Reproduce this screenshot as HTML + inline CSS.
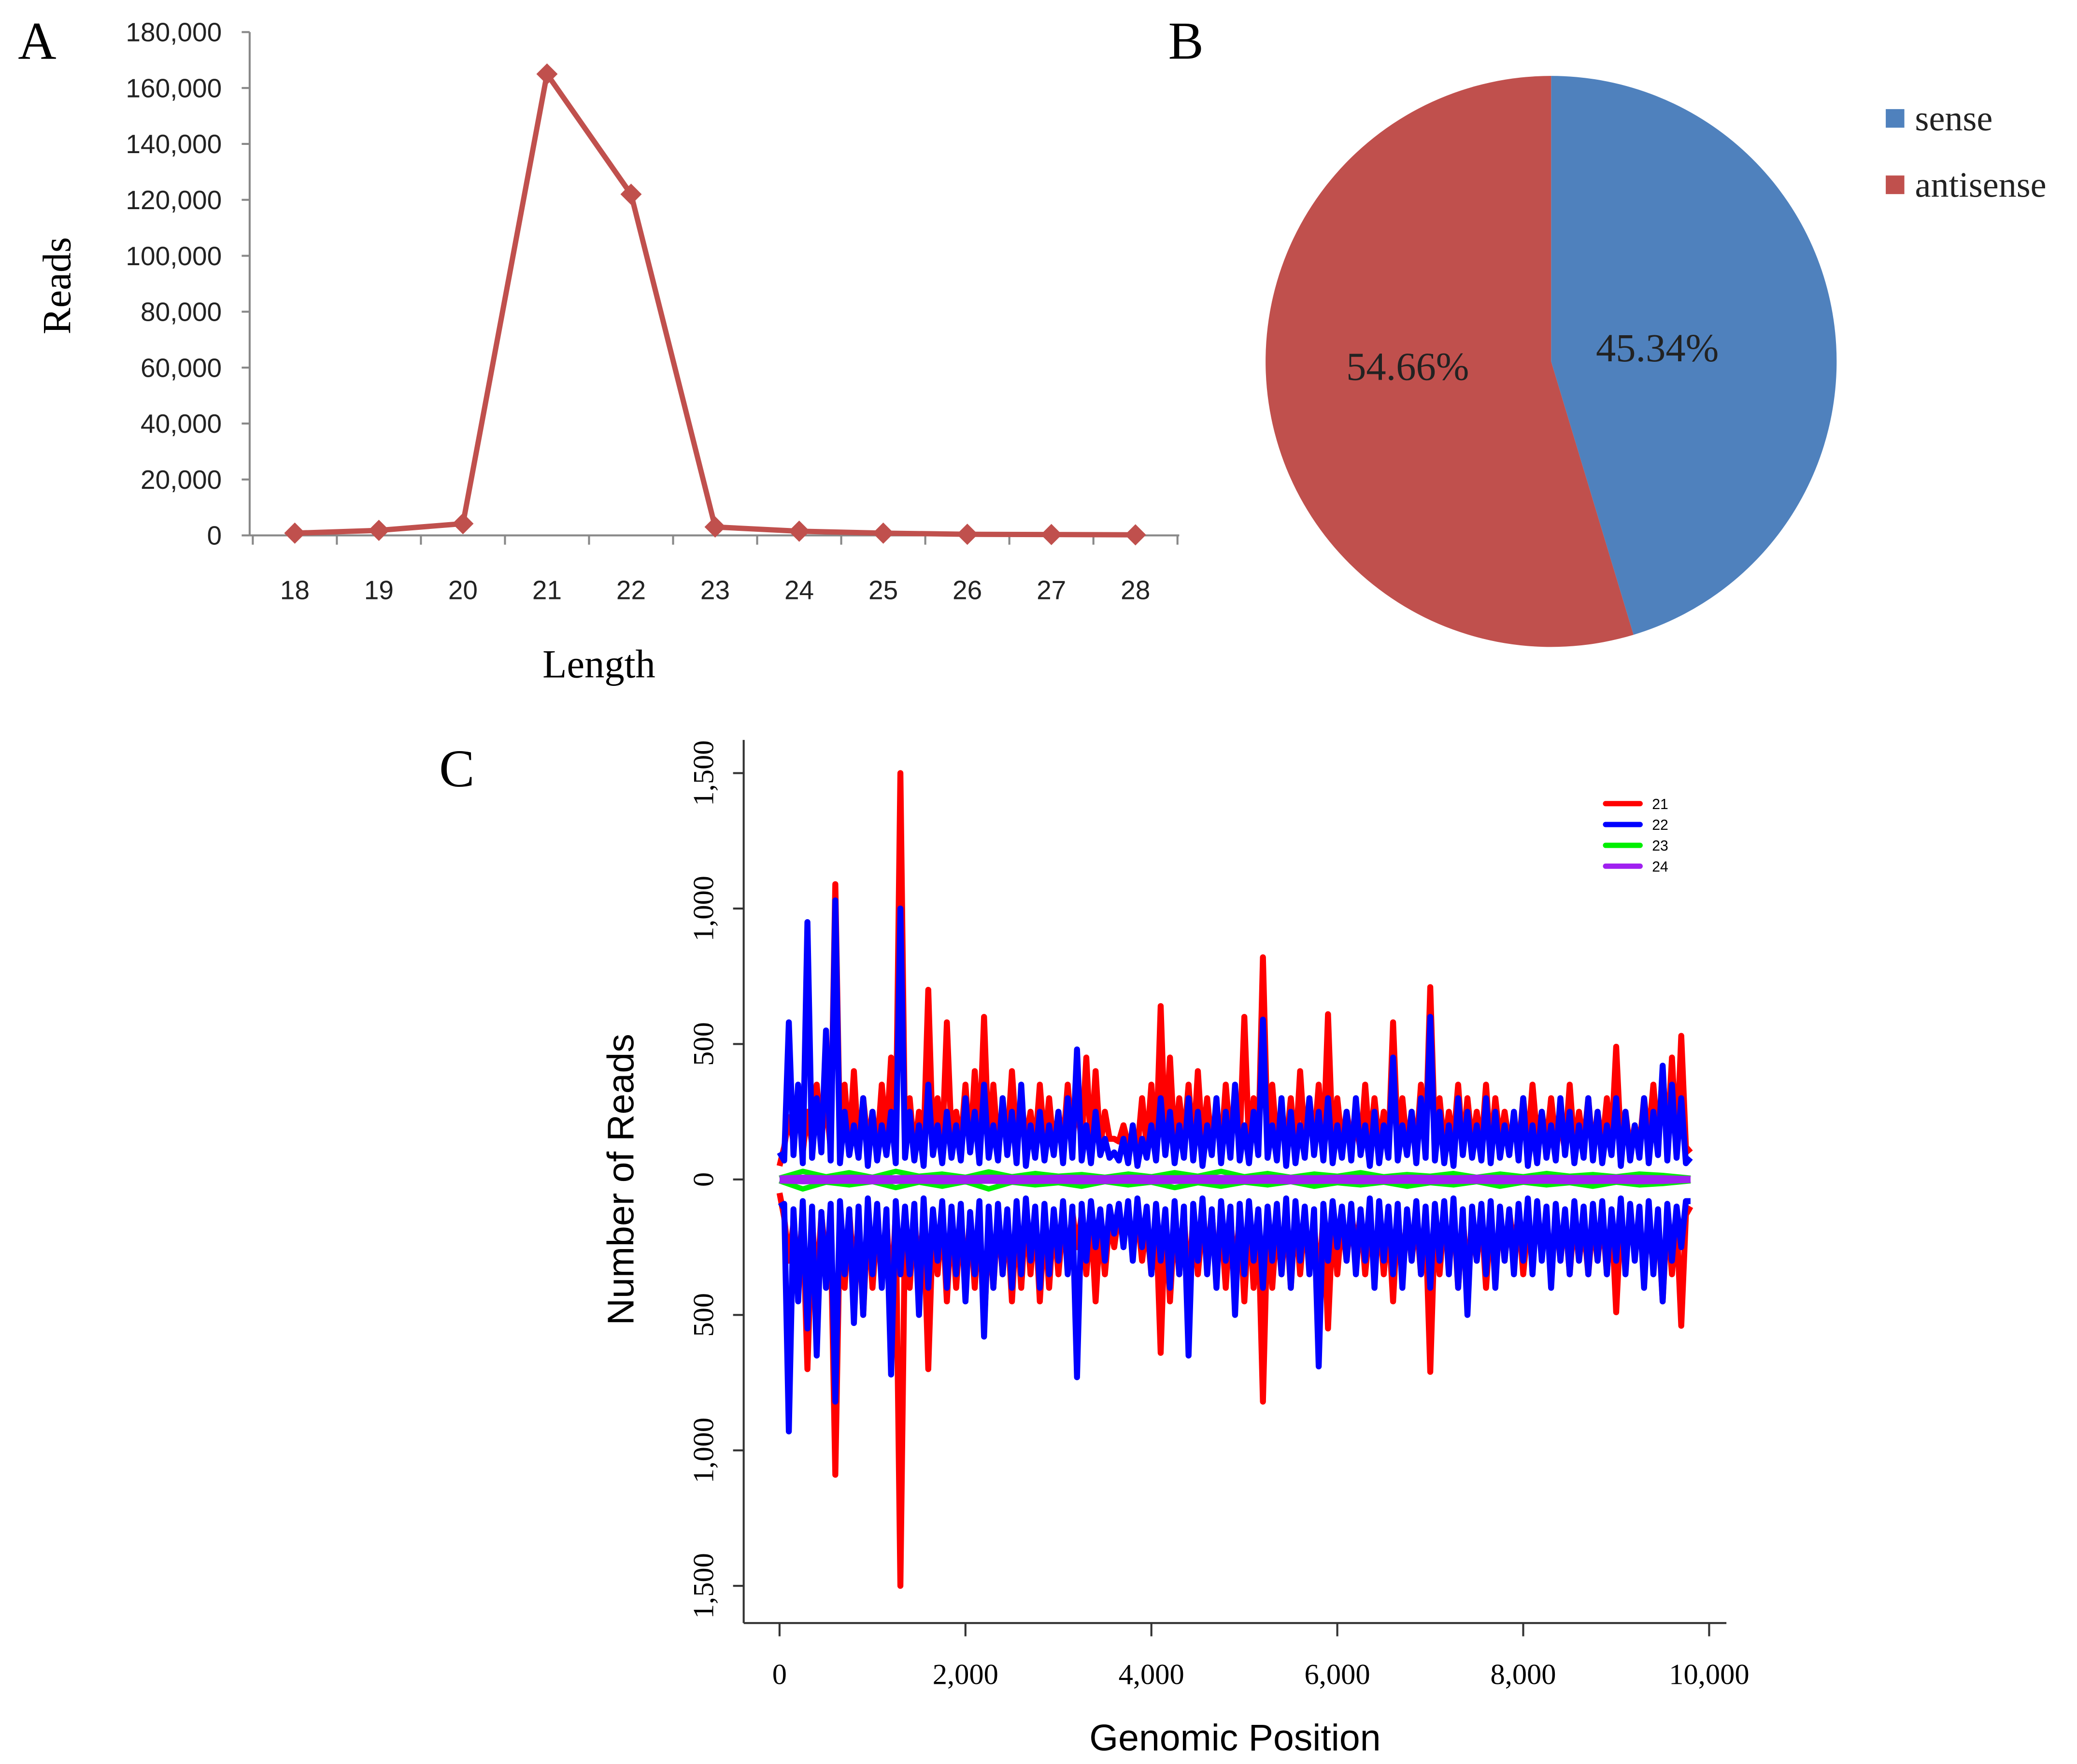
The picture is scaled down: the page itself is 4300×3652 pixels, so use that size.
<!DOCTYPE html>
<html><head><meta charset="utf-8"><style>
html,body{margin:0;padding:0;background:#fff;}
svg{display:block;}
.ser{font-family:"Liberation Serif",serif;}
.san{font-family:"Liberation Sans",sans-serif;}
</style></head><body>
<svg id="fig" width="4300" height="3652" viewBox="0 0 1564 1328" xmlns="http://www.w3.org/2000/svg">
<rect width="1564" height="1328" fill="#fff"/>
<g id="pa"></g>
<g id="pb"></g>
<g id="pc"></g>
</svg>
<script>
// Panel A data
const lenCats = [18,19,20,21,22,23,24,25,26,27,28];
const lenReads = [800,1800,4200,165000,122000,3000,1500,800,400,300,200];
const lenYTicks = [0,20000,40000,60000,80000,100000,120000,140000,160000,180000];
// Panel B data
const strandNames = ["sense","antisense"];
const strandPct = [45.34,54.66];
// Panel C data (peaks at genPos, troughs midway between)
const genPos = [0,100,200,300,400,500,600,700,800,900,1000,1100,1200,1300,1400,1500,1600,1700,1800,1900,2000,2100,2200,2300,2400,2500,2600,2700,2800,2900,3000,3100,3200,3300,3400,3500,3600,3700,3800,3900,4000,4100,4200,4300,4400,4500,4600,4700,4800,4900,5000,5100,5200,5300,5400,5500,5600,5700,5800,5900,6000,6100,6200,6300,6400,6500,6600,6700,6800,6900,7000,7100,7200,7300,7400,7500,7600,7700,7800,7900,8000,8100,8200,8300,8400,8500,8600,8700,8800,8900,9000,9100,9200,9300,9400,9500,9600,9700,9800];
const r21Sense = [50,230,300,250,350,300,1090,350,400,300,250,350,450,1500,300,250,700,300,580,250,350,400,600,350,250,400,300,250,350,300,250,350,300,450,400,250,150,200,150,300,350,640,450,300,350,400,300,250,350,300,600,300,820,350,250,300,400,300,350,610,300,250,200,350,300,250,580,300,250,350,710,300,250,350,300,250,350,300,250,200,300,350,250,300,200,350,250,300,250,300,490,250,200,300,350,400,450,530,100];
const b22Sense = [100,580,350,950,300,550,1030,250,200,300,250,200,250,1000,250,200,350,200,250,200,300,250,350,200,300,250,350,200,250,200,250,300,480,200,250,150,100,150,200,150,200,300,250,200,300,250,200,300,250,350,200,250,590,200,300,250,200,300,250,300,200,250,300,200,250,200,450,200,250,300,600,250,200,300,250,200,300,250,200,250,300,200,250,200,300,250,200,300,250,200,300,250,200,300,250,420,350,300,80];
const r21Anti = [50,300,350,700,400,300,1090,400,350,500,400,350,450,1500,400,350,700,350,450,400,350,400,550,400,350,450,400,350,450,400,350,300,250,350,450,350,250,200,250,300,350,640,450,350,400,350,300,350,400,350,450,400,820,400,350,400,350,300,400,550,350,300,250,350,300,350,450,350,300,350,710,350,300,400,350,300,400,350,300,250,350,300,250,350,300,350,300,350,300,350,490,300,250,350,300,450,350,540,100];
const b22Anti = [100,930,450,550,650,400,820,350,530,500,350,400,720,350,350,500,400,300,400,350,450,350,580,400,350,400,350,300,400,350,300,350,730,300,250,300,200,250,300,250,350,300,400,350,650,300,350,400,300,500,350,300,400,300,350,400,300,350,690,300,250,300,350,300,400,300,350,400,300,350,400,300,350,400,500,300,350,400,300,350,300,350,300,400,300,350,300,350,300,350,300,350,300,400,350,450,300,250,80];
const r21SenseLow = [120,140,100,130,150,110,140,120,100,130,110,150,120,140,100,130,120,110,150,130,100,140,120,110,130,150,140,120,130,110,120,140,130,110,120,150,140,130,110,120,100,130,120,140,110,130,120,100,140,130,120,110,150,130,120,100,140,130,110,120,130,140,110,120,130,100,140,120,110,130,150,120,140,110,130,120,100,140,130,110,120,150,130,140,110,120,130,100,120,140,130,110,120,150,140,130,110,120];
const b22SenseLow = [70,90,60,80,100,70,60,90,80,50,70,90,60,80,70,50,90,60,80,70,100,60,80,70,90,60,50,80,70,90,60,80,70,60,90,80,70,60,50,80,70,90,60,80,70,50,90,60,80,70,60,90,80,70,50,60,80,90,70,60,80,70,90,50,60,80,70,90,60,80,70,60,50,90,80,70,60,80,90,70,50,60,80,70,90,60,80,70,60,90,50,70,80,60,90,70,80,60];
const r21AntiLow = [140,160,120,150,130,170,140,120,150,130,160,140,120,150,130,140,160,120,130,150,140,120,160,130,150,140,120,130,160,140,150,120,130,140,160,150,120,140,130,160,140,120,150,130,140,160,120,150,140,130,120,160,140,150,130,120,140,160,130,150,140,120,130,160,140,150,120,130,140,160,150,130,120,140,160,130,150,140,120,130,160,140,150,120,130,140,160,150,130,120,140,150,130,160,140,120,150,130];
const b22AntiLow = [90,110,80,100,120,90,80,110,100,70,90,110,80,100,90,70,110,80,100,90,120,80,100,90,110,80,70,100,90,110,80,100,90,80,110,100,90,80,70,100,90,110,80,100,90,70,110,80,100,90,80,110,100,90,70,80,100,110,90,80,100,90,110,70,80,100,90,110,80,100,90,80,70,110,100,90,80,100,110,90,70,80,100,90,110,80,100,90,80,110,70,90,100,80,110,90,100,80];
const g23Pos = [0,250,500,750,1000,1250,1500,1750,2000,2250,2500,2750,3000,3250,3500,3750,4000,4250,4500,4750,5000,5250,5500,5750,6000,6250,6500,6750,7000,7250,7500,7750,8000,8250,8500,8750,9000,9250,9500,9800];
const g23Sense = [5,30,10,25,8,30,12,20,8,28,10,22,12,18,8,20,10,25,12,30,10,22,8,20,12,25,10,18,12,22,8,20,10,22,12,18,10,20,15,5];
const g23Anti = [5,35,10,20,8,30,10,25,8,35,10,20,12,25,8,20,10,30,12,25,10,20,8,25,12,20,10,25,12,20,8,25,10,20,12,25,10,20,15,5];
const p24Sense = [5,8,6,8,7,6,8,7,6,8,7,6,8,7,6,8,7,6,8,7,6,8,7,6,8,7,6,8,7,6,8,7,6,8,7,6,8,7,6,3];
const p24Anti = [5,8,7,6,8,7,6,8,7,6,8,7,6,8,7,6,8,7,6,8,7,6,8,7,6,8,7,6,8,7,6,8,7,6,8,7,6,8,7,3];
const cYTicks = [1500,1000,500,0,-500,-1000,-1500];
const cXTicks = [0,2000,4000,6000,8000,10000];
const cLegend = ["21","22","23","24"];

const NS="http://www.w3.org/2000/svg";
function mk(parent,tag,attrs,text){const e=document.createElementNS(NS,tag);for(const k in attrs)e.setAttribute(k,attrs[k]);if(text!==undefined)e.textContent=text;parent.appendChild(e);return e;}
const fmt=v=>Math.abs(v).toLocaleString('en-US');

// ---------- Panel A ----------
const pa=document.getElementById('pa');
const ax=i=>222+i*63.3, ay=v=>403-v*(379/180000);
let e;
e=mk(pa,'text',{x:28,y:44,'font-size':40,class:'ser','text-anchor':'middle'},'A');

e=mk(pa,'line',{x1:188,y1:24,x2:188,y2:403,stroke:'#888','stroke-width':1.5});

e=mk(pa,'line',{x1:188,y1:403,x2:888,y2:403,stroke:'#888','stroke-width':1.5});

lenYTicks.forEach(v=>{
  mk(pa,'line',{x1:182,y1:ay(v),x2:188,y2:ay(v),stroke:'#888','stroke-width':1.5});
  e=mk(pa,'text',{x:167,y:ay(v)+7,'font-size':20,class:'san','text-anchor':'end',fill:'#222'},fmt(v));
  
});
for(let i=0;i<=lenCats.length;i++){const x=ax(i)-31.65;mk(pa,'line',{x1:x,y1:403,x2:x,y2:410,stroke:'#888','stroke-width':1.5});}
lenCats.forEach((c,i)=>{e=mk(pa,'text',{x:ax(i),y:451,'font-size':20,class:'san','text-anchor':'middle',fill:'#222'},c);
  });
e=mk(pa,'polyline',{points:lenReads.map((v,i)=>ax(i)+','+ay(v)).join(' '),fill:'none',stroke:'#C0504D','stroke-width':4});

lenReads.forEach((v,i)=>{const x=ax(i),y=ay(v);e=mk(pa,'polygon',{points:`${x},${y-8} ${x+8},${y} ${x},${y+8} ${x-8},${y}`,fill:'#C0504D'});
  });
e=mk(pa,'text',{x:0,y:0,'font-size':30,class:'ser','text-anchor':'middle',transform:'translate(53,215) rotate(-90)'},'Reads');

e=mk(pa,'text',{x:451,y:510,'font-size':30,class:'ser','text-anchor':'middle'},'Length');


// ---------- Panel B ----------
const pb=document.getElementById('pb');
e=mk(pb,'text',{x:893,y:44,'font-size':40,class:'ser','text-anchor':'middle'},'B');

const cx=1168,cy=272,R=215,cols=['#4F81BD','#C0504D'];
const lblPos=[[1248,272],[1060,286]];
let a0=-Math.PI/2;
const tot=strandPct.reduce((a,b)=>a+b,0);
strandPct.forEach((p,i)=>{
  const a1=a0+p/tot*2*Math.PI;
  const large=(a1-a0)>Math.PI?1:0;
  e=mk(pb,'path',{d:`M${cx},${cy} L${cx+R*Math.cos(a0)},${cy+R*Math.sin(a0)} A${R},${R} 0 ${large} 1 ${cx+R*Math.cos(a1)},${cy+R*Math.sin(a1)} Z`,fill:cols[i]});
  
  e=mk(pb,'text',{x:lblPos[i][0],y:lblPos[i][1],'font-size':30,class:'ser','text-anchor':'middle',fill:'#222'},p.toFixed(2)+'%');
  
  a0=a1;
});
strandNames.forEach((n,i)=>{
  e=mk(pb,'rect',{x:1420,y:82+i*50,width:14,height:14,fill:cols[i]});
  
  e=mk(pb,'text',{x:1442,y:98+i*50,'font-size':27,class:'ser',fill:'#222'},n);
  
});

// ---------- Panel C ----------
const pc=document.getElementById('pc');
const cxs=v=>587+v*0.07, cys=v=>888-v*(306/1500);
e=mk(pc,'text',{x:344,y:592,'font-size':40,class:'ser','text-anchor':'middle'},'C');

e=mk(pc,'line',{x1:560,y1:557,x2:560,y2:1222,stroke:'#333','stroke-width':1.5});

e=mk(pc,'line',{x1:560,y1:1222,x2:1300,y2:1222,stroke:'#333','stroke-width':1.5});

cYTicks.forEach(v=>{const y=cys(v);
  mk(pc,'line',{x1:552,y1:y,x2:560,y2:y,stroke:'#333','stroke-width':1.5});
  e=mk(pc,'text',{x:0,y:0,'font-size':22,class:'ser','text-anchor':'middle',transform:`translate(537,${y}) rotate(-90)`},fmt(v));
  });
cXTicks.forEach(v=>{const x=cxs(v);
  mk(pc,'line',{x1:x,y1:1222,x2:x,y2:1232,stroke:'#333','stroke-width':1.5});
  e=mk(pc,'text',{x:x,y:1268,'font-size':22,class:'ser','text-anchor':'middle'},fmt(v));
  });
e=mk(pc,'text',{x:0,y:0,'font-size':28,class:'san','text-anchor':'middle',transform:'translate(477,888) rotate(-90)'},'Number of Reads');

e=mk(pc,'text',{x:930,y:1318,'font-size':28,class:'san','text-anchor':'middle'},'Genomic Position');

function series(pos,vals,lows,sign,color,name,w){
  const pts=[];
  pos.forEach((p,i)=>{
    pts.push(cxs(p)+','+cys(sign*vals[i]));
    if(lows && i<pos.length-1) pts.push(cxs((p+pos[i+1])/2)+','+cys(sign*lows[i]));
  });
  const el=mk(pc,'polyline',{points:pts.join(' '),fill:'none',stroke:color,'stroke-width':w,'stroke-linejoin':'round'});
  
  
}
series(genPos,r21Sense,r21SenseLow,1,'#FF0000','series-21-sense',4.5);
series(genPos,r21Anti,r21AntiLow,-1,'#FF0000','series-21-antisense',4.5);
series(genPos,b22Sense,b22SenseLow,1,'#0000FF','series-22-sense',4.5);
series(genPos,b22Anti,b22AntiLow,-1,'#0000FF','series-22-antisense',4.5);
series(g23Pos,g23Sense,null,1,'#00EE00','series-23-sense',4);
series(g23Pos,g23Anti,null,-1,'#00EE00','series-23-antisense',4);
series(g23Pos,p24Sense,null,1,'#A020F0','series-24-sense',4);
series(g23Pos,p24Anti,null,-1,'#A020F0','series-24-antisense',4);
const lc=['#FF0000','#0000FF','#00EE00','#A020F0'];
cLegend.forEach((n,i)=>{const y=605+i*15.7;
  e=mk(pc,'line',{x1:1209,y1:y,x2:1235,y2:y,stroke:lc[i],'stroke-width':4,'stroke-linecap':'round'});
  
  e=mk(pc,'text',{x:1244,y:y+4,'font-size':11,class:'san'},n);
  });
</script>
</body></html>
